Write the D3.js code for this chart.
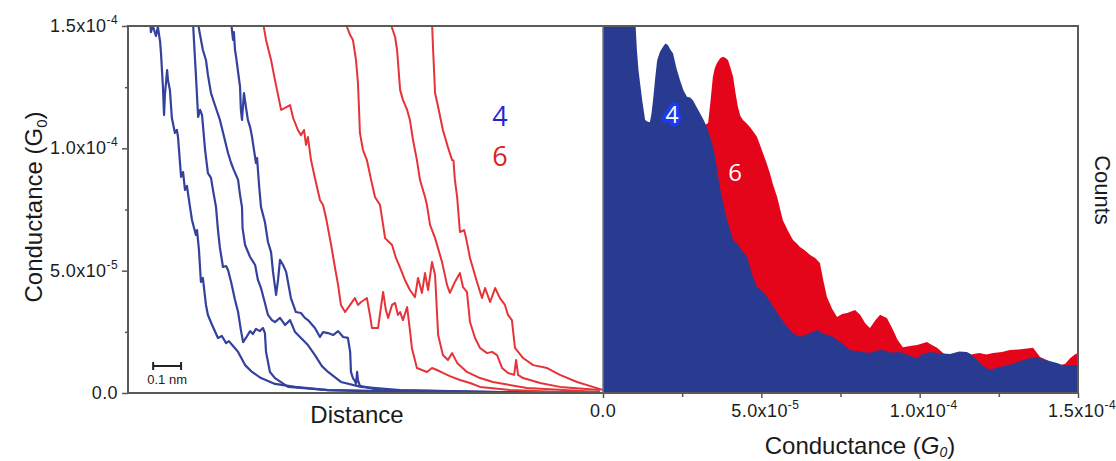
<!DOCTYPE html>
<html>
<head>
<meta charset="utf-8">
<script src="https://cdn.jsdelivr.net/npm/d3@7"></script>
<style>
  body { margin: 0; background: #fff; }
  svg { display: block; font-family: "Liberation Sans", Arial, sans-serif; }
</style>
</head>
<body>
<div class="chart"></div>
<script>
"use strict";

const WIDTH = 1116, HEIGHT = 461;
const TOP = 26, BOTTOM = 393;
const LEFT_X0 = 128, MID_X = 603, RIGHT_X1 = 1078;
const UNIT = 1e-5; // conductance values below are in 1e-5 G0

// ---- left panel: conductance traces, [distance (Å), conductance (1e-5 G0)] ----
const blue1 = [[0.79,15.25],[0.82,14.75],[0.89,15.0],[1.00,14.59],[1.07,14.96],[1.15,14.35],[1.18,13.90],[1.25,12.51],[1.29,11.36],[1.32,12.18],[1.40,13.20],[1.43,12.79],[1.50,12.38],[1.57,11.24],[1.68,10.63],[1.75,10.75],[1.79,10.46],[1.90,8.83],[1.97,9.03],[2.04,8.30],[2.11,8.46],[2.22,7.60],[2.29,7.07],[2.43,6.46],[2.47,6.66],[2.54,5.84],[2.61,4.54],[2.68,4.70],[2.79,3.60],[2.86,3.19],[3.01,2.78],[3.22,2.25],[3.36,2.33],[3.51,2.04],[3.61,2.12],[3.76,1.92],[3.94,1.68],[4.19,1.14],[4.44,0.86],[4.76,0.61],[5.26,0.37],[5.98,0.25],[7.16,0.12],[9.74,0.04],[16.89,0.02]];
const blue2 = [[2.33,15.08],[2.36,14.43],[2.43,13.0],[2.51,11.28],[2.58,11.57],[2.65,11.36],[2.76,9.93],[2.86,8.99],[2.97,8.79],[3.04,8.30],[3.15,7.60],[3.22,6.66],[3.29,5.93],[3.40,5.15],[3.51,5.19],[3.58,5.03],[3.69,4.54],[3.83,3.80],[3.94,3.31],[4.04,2.57],[4.12,2.08],[4.22,2.25],[4.37,2.53],[4.47,2.41],[4.58,2.62],[4.72,2.53],[4.83,2.66],[4.90,2.45],[4.94,1.68],[5.08,0.86],[5.26,0.61],[5.73,0.25],[7.16,0.12],[11.52,0.04],[16.89,0.02]];
const blue3 = [[2.51,15.08],[2.58,14.63],[2.68,14.02],[2.79,13.61],[2.86,13.0],[2.97,12.26],[3.11,11.77],[3.29,11.16],[3.44,10.46],[3.58,9.81],[3.69,9.40],[3.79,9.11],[3.94,8.71],[4.01,8.09],[4.08,7.60],[4.10,6.74],[4.19,6.05],[4.37,5.56],[4.55,5.23],[4.65,4.62],[4.76,4.29],[4.90,3.68],[5.01,3.19],[5.15,2.98],[5.26,2.90],[5.44,3.07],[5.62,2.78],[5.80,2.98],[5.98,2.49],[6.19,2.25],[6.44,1.96],[6.69,1.55],[6.94,1.10],[7.16,0.86],[7.62,0.45],[8.34,0.25],[9.74,0.12],[13.31,0.04],[16.89,0.02]];
const blue4 = [[3.69,15.16],[3.72,14.84],[3.76,14.43],[3.79,14.75],[3.83,14.02],[3.87,13.73],[3.94,13.12],[4.01,12.51],[4.04,11.57],[4.08,11.16],[4.15,12.26],[4.22,11.69],[4.29,11.16],[4.37,10.87],[4.44,10.46],[4.51,9.93],[4.58,9.40],[4.62,9.60],[4.69,8.50],[4.76,7.60],[4.90,6.99],[5.01,6.17],[5.12,5.76],[5.19,4.95],[5.30,4.01],[5.37,4.62],[5.44,5.44],[5.55,5.23],[5.66,4.95],[5.83,3.88],[6.01,3.31],[6.19,3.27],[6.33,3.07],[6.44,2.98],[6.69,2.66],[6.87,2.29],[6.98,2.49],[7.16,2.45],[7.34,2.37],[7.52,2.53],[7.70,2.29],[7.87,2.25],[7.95,1.68],[7.98,0.86],[8.05,0.61],[8.12,0.49],[8.16,0.37],[8.20,0.86],[8.23,0.53],[8.30,0.29],[9.02,0.12],[13.31,0.04],[16.89,0.02]];

const red1 = [[4.83,15.16],[4.94,14.43],[5.12,13.61],[5.26,12.79],[5.48,11.57],[5.62,11.65],[5.80,11.77],[5.91,11.24],[6.08,10.75],[6.19,10.54],[6.30,10.75],[6.37,10.14],[6.44,10.46],[6.55,9.52],[6.69,8.79],[6.87,7.89],[6.98,7.68],[7.09,7.15],[7.27,6.05],[7.41,5.11],[7.52,4.41],[7.62,3.60],[7.77,3.31],[7.95,3.60],[8.12,3.88],[8.23,3.60],[8.34,3.72],[8.45,3.80],[8.55,3.88],[8.66,3.19],[8.73,2.66],[8.95,2.66],[9.13,4.13],[9.23,3.39],[9.31,3.07],[9.45,3.60],[9.56,3.68],[9.66,3.19],[9.74,3.31],[9.84,2.98],[9.99,3.51],[10.09,2.57],[10.16,1.84],[10.34,1.02],[10.52,0.94],[10.70,0.86],[10.88,1.02],[11.06,0.94],[11.27,0.82],[11.52,0.69],[11.88,0.53],[12.24,0.41],[12.60,0.25],[13.67,0.12],[15.46,0.04],[16.89,0.02]];
const red2 = [[7.77,15.16],[7.95,14.63],[8.05,14.43],[8.16,13.61],[8.23,12.67],[8.27,11.57],[8.30,10.63],[8.41,9.93],[8.55,9.52],[8.70,8.71],[8.84,8.01],[9.02,7.68],[9.13,6.87],[9.20,6.33],[9.45,6.05],[9.59,5.52],[9.74,5.11],[9.91,4.62],[10.09,4.21],[10.27,3.92],[10.38,4.70],[10.52,4.09],[10.63,4.90],[10.74,4.21],[10.88,5.35],[10.99,4.82],[11.10,2.37],[11.27,1.55],[11.45,1.35],[11.60,1.63],[11.78,1.23],[12.13,0.86],[12.60,0.61],[13.06,0.45],[14.28,0.20],[16.89,0.04]];
const red3 = [[9.38,15.16],[9.56,14.55],[9.63,14.02],[9.74,12.38],[9.84,11.98],[9.99,11.57],[10.09,11.16],[10.20,10.34],[10.34,9.52],[10.45,8.71],[10.63,8.01],[10.70,7.68],[10.81,6.87],[10.99,6.33],[11.24,5.35],[11.42,4.41],[11.52,4.09],[11.70,4.54],[11.88,4.90],[11.99,4.33],[12.13,4.13],[12.24,2.90],[12.42,2.25],[12.60,1.84],[12.85,1.63],[13.03,1.68],[13.21,1.55],[13.39,1.02],[13.60,0.82],[13.82,0.74],[13.89,1.35],[13.96,0.74],[14.14,0.61],[14.75,0.41],[15.46,0.25],[16.89,0.12]];
const red4 = [[10.88,15.16],[10.92,14.02],[10.99,12.26],[11.10,11.69],[11.27,10.75],[11.45,10.05],[11.60,9.52],[11.65,9.50],[11.68,8.99],[11.70,8.71],[11.78,8.01],[11.88,6.58],[12.03,6.66],[12.10,6.33],[12.24,5.52],[12.49,4.54],[12.67,3.88],[12.78,4.29],[12.96,3.72],[13.14,4.29],[13.31,3.88],[13.49,3.60],[13.60,3.19],[13.74,2.98],[13.85,1.84],[14.14,1.43],[14.50,1.14],[15.00,1.02],[15.46,0.74],[16.07,0.45],[16.64,0.25],[17.0,0.12]];

const blueTraces = [blue1, blue2, blue3, blue4];
const redTraces = [red1, red2, red3, red4];

// ---- right panel: histograms, [conductance (1e-5 G0), counts (a.u.)] ----
const blueHist = [[0,115],[1.01,115],[1.03,100],[1.07,93.5],[1.12,88],[1.17,84.5],[1.25,79],[1.33,74.4],[1.40,74],[1.48,73.8],[1.53,76],[1.58,79.8],[1.65,86],[1.71,90.7],[1.80,93],[1.89,94.3],[1.97,95.2],[2.05,94.8],[2.13,93.5],[2.21,92.6],[2.32,88.5],[2.43,85.3],[2.54,82.5],[2.65,80.7],[2.75,80.5],[2.84,79.8],[2.95,78],[3.06,76.3],[3.17,74.5],[3.28,72.5],[3.38,69.8],[3.46,67.5],[3.54,64.3],[3.62,60],[3.69,56.1],[3.80,51.5],[3.92,47.1],[4.01,44.5],[4.11,41.7],[4.25,40.5],[4.40,38.6],[4.55,37.1],[4.70,32.5],[4.86,28.9],[5.02,27.8],[5.18,26.2],[5.38,23.5],[5.59,20.7],[5.80,18.2],[6.00,16.3],[6.22,15.3],[6.45,16.0],[6.76,17.2],[7.00,16.0],[7.26,15.3],[7.50,13.8],[7.80,11.7],[8.10,11.3],[8.43,10.9],[8.60,11.5],[8.84,11.7],[9.10,11.0],[9.38,11.2],[9.65,10.3],[9.92,9.5],[10.10,10.6],[10.33,11.2],[10.65,10.8],[10.96,10.6],[11.25,11.3],[11.49,11.2],[11.65,10.4],[11.81,9.0],[12.00,7.4],[12.22,6.3],[12.40,6.8],[12.54,7.1],[12.80,7.6],[13.07,8.4],[13.40,9.3],[13.71,9.8],[14.00,8.9],[14.34,8.2],[14.55,7.5],[14.75,7.6],[15.0,7.6]];
const redHist = [[3.10,0],[3.15,72],[3.22,73.0],[3.32,73.6],[3.40,80],[3.47,86.1],[3.53,88.5],[3.60,89.9],[3.70,91.2],[3.79,91.6],[3.87,91.3],[3.95,90.7],[4.03,88.5],[4.11,86.1],[4.18,82],[4.26,77.9],[4.34,75.5],[4.42,74.4],[4.53,73.5],[4.64,72.5],[4.75,71.2],[4.86,69.8],[4.95,67.8],[5.05,65.4],[5.16,62.8],[5.27,59.9],[5.38,56.5],[5.50,53.4],[5.59,50.2],[5.68,47.1],[5.84,44.2],[6.00,41.7],[6.11,40.8],[6.22,39.8],[6.38,38.8],[6.54,37.6],[6.70,36.8],[6.85,35.4],[6.96,30.5],[7.07,26.2],[7.23,23.0],[7.39,20.7],[7.55,21.5],[7.71,21.8],[7.96,22.6],[8.12,21.3],[8.28,19.0],[8.43,17.7],[8.60,19.8],[8.75,21.3],[8.97,20.4],[9.16,17.2],[9.30,14.5],[9.47,12.5],[9.70,12.8],[9.92,13.1],[10.23,13.9],[10.40,13.0],[10.55,12.3],[10.80,10.4],[11.50,10.0],[11.70,10.6],[11.89,10.9],[12.10,10.5],[12.32,10.9],[12.60,11.2],[12.85,11.7],[13.20,11.9],[13.58,12.3],[13.70,11.0],[13.80,9.8],[14.40,7.5],[14.60,8.0],[14.75,9.5],[14.90,10.5],[15.0,10.9]];

// ---- ticks ----
const condTicks = [0, 5e-5, 1e-4, 1.5e-4];
const condMinor = [2.5e-5, 7.5e-5, 1.25e-4];
const condLabels = [["0.0", ""], ["5.0x10", "-5"], ["1.0x10", "-4"], ["1.5x10", "-4"]];

/* scales */
const xDist = d3.scaleLinear().domain([0, 17]).range([LEFT_X0, MID_X]); // Å
const yCond = d3.scaleLinear().domain([0, 1.5e-4]).range([BOTTOM, TOP]);
const xHist = d3.scaleLinear().domain([0, 1.5e-4]).range([MID_X, RIGHT_X1]);
const yCount = d3.scaleLinear().domain([0, 100]).range([BOTTOM, TOP]);

const svg = d3.select(".chart").append("svg")
  .attr("width", WIDTH).attr("height", HEIGHT);

const defs = svg.append("defs");
defs.append("clipPath").attr("id", "clipL").append("rect")
  .attr("x", LEFT_X0).attr("y", TOP).attr("width", MID_X - LEFT_X0).attr("height", BOTTOM - TOP);
defs.append("clipPath").attr("id", "clipR").append("rect")
  .attr("x", MID_X).attr("y", TOP).attr("width", RIGHT_X1 - MID_X).attr("height", BOTTOM - TOP);

// histograms (red behind blue)
const area = d3.area()
  .x((d) => xHist(d[0] * UNIT))
  .y0(yCount(0))
  .y1((d) => yCount(d[1]));

const hist = svg.append("g").attr("clip-path", "url(#clipR)");
hist.append("path").datum(redHist).attr("d", area).attr("fill", "#e5051b");
hist.append("path").datum(blueHist).attr("d", area).attr("fill", "#283b91");

// traces
const line = d3.line()
  .x((d) => xDist(d[0]))
  .y((d) => yCond(d[1] * UNIT));

const traces = svg.append("g").attr("clip-path", "url(#clipL)").attr("fill", "none")
  .attr("stroke-linejoin", "round");
traces.selectAll(".blue").data(blueTraces).enter().append("path")
  .attr("d", line).attr("stroke", "#34419d").attr("stroke-width", 2.2);
traces.selectAll(".red").data(redTraces).enter().append("path")
  .attr("d", line).attr("stroke", "#e63338").attr("stroke-width", 2);

// axes (ticks only, frame drawn separately)
function styleAxis(g) {
  g.select(".domain").remove();
  g.selectAll(".tick line").attr("stroke", "#555").attr("stroke-width", 1.5);
}
svg.append("g").attr("transform", `translate(${LEFT_X0},0)`)
  .call(d3.axisLeft(yCond).tickValues(condTicks).tickSize(6).tickFormat(""))
  .call(styleAxis);
svg.append("g").attr("transform", `translate(${LEFT_X0},0)`)
  .call(d3.axisLeft(yCond).tickValues(condMinor).tickSize(3).tickFormat(""))
  .call(styleAxis);
svg.append("g").attr("transform", `translate(0,${BOTTOM})`)
  .call(d3.axisBottom(xHist).tickValues(condTicks).tickSize(5).tickFormat(""))
  .call(styleAxis);
svg.append("g").attr("transform", `translate(0,${BOTTOM})`)
  .call(d3.axisBottom(xHist).tickValues(condMinor).tickSize(4).tickFormat(""))
  .call(styleAxis);

// frame
svg.append("rect")
  .attr("x", LEFT_X0).attr("y", TOP)
  .attr("width", RIGHT_X1 - LEFT_X0).attr("height", BOTTOM - TOP)
  .attr("fill", "none").attr("stroke", "#5a5a5a").attr("stroke-width", 2);
svg.append("line")
  .attr("x1", MID_X).attr("x2", MID_X).attr("y1", TOP).attr("y2", BOTTOM)
  .attr("stroke", "#777").attr("stroke-width", 1.5);

// tick labels
function tickLabel(sel, main, sup) {
  sel.append("tspan").text(main);
  if (sup) sel.append("tspan").attr("dy", -8).attr("font-size", 12).text(sup);
}
condTicks.forEach((v, i) => {
  svg.append("text")
    .attr("x", 118).attr("y", yCond(v) + 6)
    .attr("text-anchor", "end").attr("font-size", 18).attr("letter-spacing", 0.4)
    .attr("fill", "#1c1c1c")
    .call(tickLabel, condLabels[i][0], condLabels[i][1]);
  svg.append("text")
    .attr("x", xHist(v) + (condLabels[i][1] ? 4 : 0)).attr("y", 417)
    .attr("text-anchor", "middle").attr("font-size", 18).attr("letter-spacing", 0.4)
    .attr("fill", "#1c1c1c")
    .call(tickLabel, condLabels[i][0], condLabels[i][1]);
});

// axis titles
svg.append("text")
  .attr("transform", "translate(42,207) rotate(-90)")
  .attr("text-anchor", "middle").attr("font-size", 24).attr("fill", "#1a1a1a")
  .call((t) => {
    t.append("tspan").text("Conductance (G");
    t.append("tspan").attr("dy", 5).attr("font-size", 15).text("0");
    t.append("tspan").attr("dy", -5).text(")");
  });
svg.append("text")
  .attr("x", 357).attr("y", 423)
  .attr("text-anchor", "middle").attr("font-size", 24).attr("fill", "#1a1a1a")
  .text("Distance");
svg.append("text")
  .attr("x", 860).attr("y", 454)
  .attr("text-anchor", "middle").attr("font-size", 24).attr("fill", "#1a1a1a")
  .call((t) => {
    t.append("tspan").text("Conductance (");
    t.append("tspan").attr("font-style", "italic").text("G");
    t.append("tspan").attr("dy", 3).attr("font-size", 14).attr("font-style", "italic").text("0");
    t.append("tspan").attr("dy", -3).text(")");
  });
svg.append("text")
  .attr("transform", "translate(1095,190) rotate(90)")
  .attr("text-anchor", "middle").attr("font-size", 22).attr("fill", "#1a1a1a")
  .text("Counts");

// scale bar: 1 Å = 0.1 nm
const bar = svg.append("g").attr("stroke", "#222").attr("stroke-width", 2);
bar.append("line").attr("x1", xDist(0.9)).attr("x2", xDist(1.9)).attr("y1", 366).attr("y2", 366);
[0.9, 1.9].forEach((v) => {
  bar.append("line").attr("x1", xDist(v)).attr("x2", xDist(v)).attr("y1", 362).attr("y2", 370);
});
svg.append("text")
  .attr("x", xDist(1.4)).attr("y", 384)
  .attr("text-anchor", "middle").attr("font-size", 13).attr("fill", "#222")
  .text("0.1 nm");

// molecule labels
svg.append("text").attr("x", 500).attr("y", 126).attr("text-anchor", "middle")
  .attr("font-family", "Open Sans").attr("font-size", 27).attr("fill", "#2323d6").text("4");
svg.append("text").attr("x", 500).attr("y", 166).attr("text-anchor", "middle")
  .attr("font-family", "Open Sans").attr("font-size", 27).attr("fill", "#dc1f1f").text("6");
svg.append("text").attr("x", 672).attr("y", 123).attr("text-anchor", "middle")
  .attr("font-family", "Open Sans").attr("font-size", 23).attr("fill", "#fff")
  .attr("stroke", "#1a3cf0").attr("stroke-width", 7).attr("stroke-linejoin", "round")
  .attr("paint-order", "stroke").text("4");
svg.append("text").attr("x", 735).attr("y", 181).attr("text-anchor", "middle")
  .attr("font-family", "Open Sans").attr("font-size", 24).attr("fill", "#fff").text("6");
</script>
</body>
</html>
